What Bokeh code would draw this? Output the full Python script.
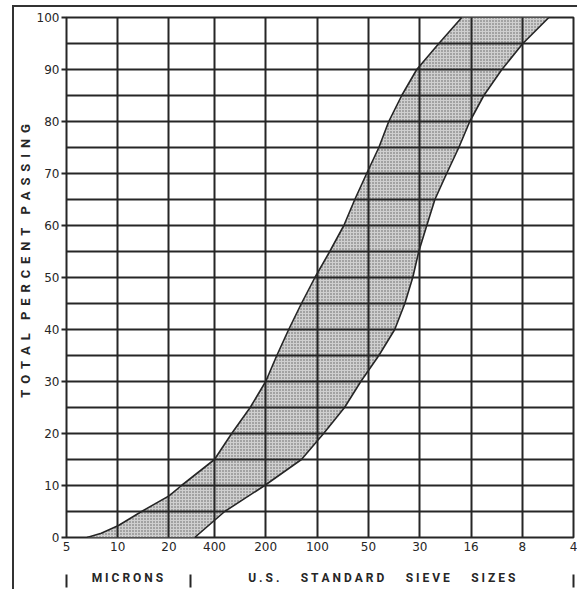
from bokeh.plotting import figure
from bokeh.models import Range1d, FixedTicker, LogAxis
from bokeh.embed import file_html
from bokeh.resources import INLINE

# ---- data (particle size in microns, percent passing) ----
x_ticks_um = [5, 10, 20, 37, 74, 149, 297, 595, 1190, 2380, 4760]
x_tick_labels = ["5", "10", "20", "400", "200", "100", "50", "30", "16", "8", "4"]
y_ticks = [0, 10, 20, 30, 40, 50, 60, 70, 80, 90, 100]
y_grid = [0, 5, 10, 15, 20, 25, 30, 35, 40, 45, 50, 55, 60, 65, 70, 75, 80, 85, 90, 95, 100]

# finer (upper / left) limit of the band
fine_um = [6.6, 8.0, 10.1, 13.8, 20, 23.7, 37, 46.7, 60, 74, 86, 101, 120, 144, 176, 213, 247, 290, 342, 391, 466, 571, 770, 1050]
fine_pct = [0, 0.8, 2.3, 5, 8, 10, 15, 20, 25, 30, 35, 40, 45, 50, 55, 60, 65, 70, 75, 80, 85, 90, 95, 100]

# coarser (lower / right) limit of the band
coarse_um = [28.3, 42.5, 73, 120, 162, 215, 268, 342, 424, 486, 541, 587, 654, 730, 856, 1009, 1170, 1415, 1806, 2399, 3411]
coarse_pct = [0, 5, 10, 15, 20, 25, 30, 35, 40, 45, 50, 55, 60, 65, 70, 75, 80, 85, 90, 95, 100]

# bottom captions
group_bounds_um = [5, 26.8, 4760]
group_names = ["MICRONS", "U.S. STANDARD SIEVE SIZES"]
group_centers_um = [11.4, 356]

INK = "#262626"
NB = "\u00a0"


def spaced(s, gap=NB + "\u2009", word_gap="\u2003"):
    words = s.split(" ")
    return word_gap.join(gap.join(list(w)) for w in words)


p = figure(frame_width=507, frame_height=520, x_axis_type="log",
           x_range=Range1d(5, 4760), y_range=Range1d(0, 100),
           output_backend="svg", toolbar_location=None,
           min_border_left=51, min_border_top=10, min_border_right=5,
           min_border_bottom=52)
p.styles = {"position": "absolute", "left": "12px", "top": "5px",
            "border-top": "2px solid #333", "border-left": "2px solid #333"}

# band
band_x = fine_um + coarse_um[::-1]
band_y = fine_pct + coarse_pct[::-1]
p.patch(band_x, band_y, fill_color="#cfcfcf", line_color=None,
        hatch_pattern="dot", hatch_color="#5e5e5e", hatch_scale=3, hatch_weight=1)
p.line(fine_um, fine_pct, line_color=INK, line_width=1.6)
p.line(coarse_um, coarse_pct, line_color=INK, line_width=1.6)

# grid above the band
p.xgrid.ticker = FixedTicker(ticks=x_ticks_um)
p.ygrid.ticker = FixedTicker(ticks=y_grid)
for g in (p.xgrid, p.ygrid):
    g.grid_line_color = INK
    g.grid_line_width = 2
    g.level = "overlay"

p.outline_line_color = INK
p.outline_line_width = 2
p.background_fill_color = "white"
p.border_fill_color = "white"

# y axis
ya = p.yaxis[0]
ya.ticker = FixedTicker(ticks=y_ticks)
ya.major_tick_out = 5
ya.major_tick_in = 0
ya.major_tick_line_width = 2
ya.major_tick_line_color = INK
ya.minor_tick_line_color = None
ya.axis_line_color = None
ya.major_label_standoff = 2
ya.major_label_text_font = "DejaVu Sans"
ya.major_label_text_font_size = "12px"
ya.major_label_text_color = INK
ya.axis_label = "\u2003\u2003\u2002" + spaced("TOTAL PERCENT PASSING")
ya.axis_label_standoff = 1
ya.axis_label_text_font = "Roboto"
ya.axis_label_text_font_style = "bold"
ya.axis_label_text_font_size = "13px"
ya.axis_label_text_color = INK

# x axis (tick labels)
xa = p.xaxis[0]
xa.ticker = FixedTicker(ticks=x_ticks_um)
xa.major_label_overrides = {t: l for t, l in zip(x_ticks_um, x_tick_labels)}
xa.major_tick_out = 0
xa.major_tick_in = 0
xa.minor_tick_line_color = None
xa.axis_line_color = None
xa.major_label_standoff = 4
xa.major_label_text_font = "DejaVu Sans"
xa.major_label_text_font_size = "12px"
xa.major_label_text_color = INK

# captions row
caps = LogAxis(ticker=FixedTicker(ticks=group_centers_um))
caps.major_label_overrides = {c: spaced(n, gap=NB, word_gap="\u2003\u2002" + NB)
                              for c, n in zip(group_centers_um, group_names)}
caps.axis_line_color = None
caps.major_tick_line_color = None
caps.minor_tick_line_color = None
caps.major_tick_in = 0
caps.major_tick_out = 0
caps.major_label_standoff = 17
caps.major_label_text_font = "Roboto"
caps.major_label_text_font_style = "bold"
caps.major_label_text_font_size = "12px"
caps.major_label_text_color = INK
p.add_layout(caps, "below")

# separator bars (drawn upward, beside the captions)
bars = LogAxis(ticker=FixedTicker(ticks=group_bounds_um))
bars.axis_line_color = None
bars.minor_tick_line_color = None
bars.major_tick_in = 13
bars.major_tick_out = 0
bars.major_tick_line_width = 2
bars.major_tick_line_color = INK
bars.major_label_text_color = None
bars.major_label_standoff = 0
bars.major_label_text_font_size = "0px"
p.add_layout(bars, "below")

open("out.html", "w").write(file_html(p, INLINE))
